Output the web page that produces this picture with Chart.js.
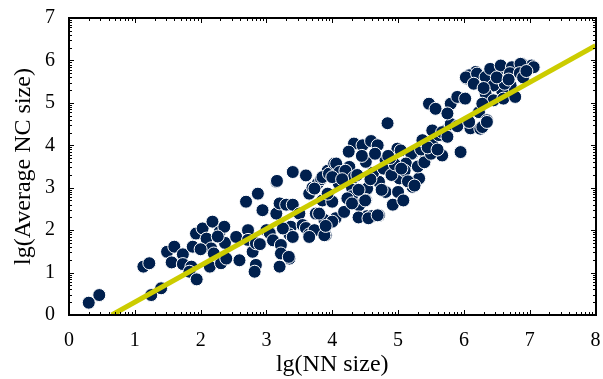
<!DOCTYPE html>
<html>
<head>
<meta charset="utf-8">
<script src="https://cdn.jsdelivr.net/npm/chart.js@4/dist/chart.umd.min.js"></script>
<style>
  html, body { margin: 0; padding: 0; background: #fff; }
  #wrap { width: 603px; height: 379px; position: relative; }
  #frame { position: absolute; left: 0; top: 0; width: 0; height: 0; pointer-events: none; }
  .edge { position: absolute; background: #000; }
</style>
</head>
<body>
<div id="wrap"><canvas id="nnChart" width="603" height="379"></canvas><div id="frame"></div></div>
<script>
// lg(NN size) for each network
const lgNN = [
  0.30, 0.46, 1.13, 1.22, 1.25, 1.40, 1.49, 1.60, 1.56, 1.73, 1.73, 1.86, 1.88, 1.83, 1.94,
  1.93, 2.03, 2.18, 2.09, 2.29, 2.36, 2.16, 2.14, 2.31, 2.39, 2.37, 2.26, 2.20, 2.00,
  2.54, 2.59, 2.72, 2.72, 2.69, 2.87, 2.94, 2.79, 2.84, 2.82, 2.84, 2.90, 3.00, 3.05,
  3.10, 3.15, 3.15, 3.20, 3.20, 3.22, 3.22, 3.35, 3.30, 3.40, 3.40, 3.37, 3.35, 3.25,
  3.16, 3.34, 3.50, 3.55, 3.40, 3.60, 3.65, 3.70, 3.78, 3.83, 3.93, 3.75, 3.85, 3.60,
  3.65, 3.73, 3.85, 3.95, 4.03, 4.00, 3.88, 3.73, 3.90, 3.65, 3.80, 4.05, 3.88, 3.93,
  4.00, 3.90, 4.06, 4.26, 4.11, 4.20, 4.10, 4.30, 4.33, 4.46, 4.59, 4.69, 4.51, 4.81,
  4.99, 4.84, 5.22, 5.42, 5.52, 5.67, 5.62, 5.72, 5.04, 5.20, 5.12, 5.02, 5.32, 4.71,
  4.53, 4.33, 4.81, 5.00, 5.22, 4.51, 4.30, 4.23, 4.18, 4.41, 4.53, 4.71, 4.60, 4.40,
  4.00, 4.30, 4.50, 4.55, 4.69, 4.15, 4.38, 4.62, 4.78, 4.90, 5.10, 4.95, 5.15, 5.30,
  5.40, 5.35, 4.45, 4.65, 4.88, 5.05, 5.25, 4.75, 4.92, 5.08, 4.25, 4.40, 4.58, 4.85,
  5.50, 5.37, 5.45, 5.60, 5.52, 5.67, 5.75, 5.95, 5.80, 5.90, 6.10, 5.47, 5.57, 5.80,
  5.90, 6.02, 5.75, 6.08, 6.23, 6.35, 6.25, 6.28, 6.35, 6.05, 6.18, 6.43, 6.55, 6.08,
  6.03, 6.20, 6.33, 6.40, 6.56, 6.73, 6.88, 7.03, 6.86, 7.06, 6.53, 6.70, 6.85, 6.90,
  6.71, 6.58, 6.45, 6.33, 6.45, 6.60, 6.78, 6.28, 6.15, 6.30, 6.62, 6.50, 6.68, 6.95
];
// lg(Average NC size), same order as lgNN
const lgAvgNC = [
  0.29, 0.47, 1.14, 1.22, 0.47, 0.63, 1.49, 1.61, 1.24, 1.43, 1.20, 1.14, 1.61, 1.02, 0.84,
  1.92, 2.04, 2.20, 1.80, 1.96, 2.08, 1.57, 1.14, 1.22, 1.33, 1.70, 1.85, 1.45, 1.55,
  1.84, 1.29, 2.00, 1.77, 2.67, 2.86, 2.47, 1.49, 1.18, 1.02, 1.69, 1.67, 2.00, 1.93,
  1.76, 2.39, 3.14, 2.63, 1.14, 1.65, 1.45, 1.33, 2.60, 3.37, 2.60, 2.08, 1.90, 2.04,
  3.16, 1.37, 2.39, 2.12, 1.84, 3.29, 2.86, 3.00, 3.10, 3.20, 3.40, 2.39, 2.70, 2.05,
  1.90, 2.98, 3.25, 3.33, 3.57, 2.67, 2.24, 2.00, 1.88, 1.84, 2.39, 2.28, 1.88, 2.86,
  2.20, 2.10, 3.57, 3.49, 3.37, 3.40, 3.10, 3.00, 4.04, 4.00, 4.10, 4.00, 3.61, 3.65,
  3.92, 4.52, 3.80, 3.69, 4.04, 3.76, 4.24, 4.35, 3.88, 3.80, 3.57, 3.22, 3.22, 3.14,
  2.98, 3.25, 2.90, 2.90, 3.02, 2.71, 2.80, 2.75, 2.43, 2.59, 2.33, 2.35, 2.33, 2.30,
  3.25, 2.63, 2.70, 2.28, 2.35, 3.20, 3.30, 3.35, 3.45, 3.30, 3.40, 3.55, 3.15, 3.50,
  3.60, 3.90, 3.75, 3.80, 3.70, 3.45, 3.05, 2.95, 2.60, 2.70, 3.85, 2.95, 3.20, 3.75,
  3.80, 4.12, 3.95, 3.90, 4.35, 4.31, 4.20, 3.84, 4.50, 4.45, 4.40, 4.98, 4.86, 4.98,
  5.14, 5.10, 4.75, 4.55, 4.78, 4.59, 4.39, 4.43, 4.55, 5.57, 5.73, 5.53, 5.80, 5.65,
  5.60, 5.69, 5.61, 5.80, 5.88, 5.84, 5.92, 5.88, 5.92, 5.84, 5.53, 5.70, 5.70, 5.60,
  5.41, 5.29, 5.41, 5.22, 5.06, 5.10, 5.14, 4.98, 5.45, 5.35, 5.45, 5.60, 5.55, 5.75
];
// fit line drawn across the box
const fitX = [0.65, 8];
const fitY = [0, 6.35];

const xTicks = [0, 1, 2, 3, 4, 5, 6, 7, 8];
const yTicks = [0, 1, 2, 3, 4, 5, 6, 7];

const serif = "'Liberation Serif', 'Times New Roman', serif";
const pts = lgNN.map((x, i) => ({ x, y: lgAvgNC[i] }));
const fitPts = fitX.map((x, i) => ({ x, y: fitY[i] }));

// majors plus matlab-style log minor ticks (lg 2..9) inside every unit
function withMinor(majors) {
  const out = [];
  majors.forEach((t, i) => {
    out.push({ v: t, len: 5 });
    if (i < majors.length - 1) for (let k = 2; k < 10; k++) out.push({ v: t + Math.log10(k), len: 3 });
  });
  return out;
}

const chart = new Chart(document.getElementById("nnChart"), {
  type: "scatter",
  data: {
    datasets: [
      {
        label: "fit",
        data: fitPts,
        showLine: true,
        borderColor: "rgb(204,204,0)",
        borderWidth: 5,
        pointRadius: 0,
        order: 0
      },
      {
        label: "networks",
        data: pts,
        backgroundColor: "rgb(0,32,78)",
        borderColor: "#fff",
        borderWidth: 1,
        pointRadius: 6.5,
        order: 1
      }
    ]
  },
  options: {
    responsive: false,
    animation: false,
    layout: { padding: { top: 18, right: 6, left: 0, bottom: 0 } },
    plugins: { legend: { display: false }, tooltip: { enabled: false } },
    scales: {
      x: {
        type: "linear", min: 0, max: 8,
        afterFit: s => { s.height = 64; s.paddingRight = 0; s.paddingLeft = 0; },
        grid: { display: false, drawTicks: false },
        border: { display: false },
        ticks: { stepSize: 1, color: "#000", padding: 14, font: { family: serif, size: 20 } },
        title: { display: true, text: "lg(NN size)", color: "#000", padding: 0, font: { family: serif, size: 24 } }
      },
      y: {
        type: "linear", min: 0, max: 7,
        afterFit: s => { s.width = 69; s.paddingTop = 0; s.paddingBottom = 0; },
        grid: { display: false, drawTicks: false },
        border: { display: false },
        ticks: { stepSize: 1, color: "#000", padding: 14, font: { family: serif, size: 20 } },
        title: { display: true, text: "lg(Average NC size)", color: "#000", padding: { top: 9, bottom: 0 }, font: { family: serif, size: 24 } }
      }
    }
  }
});

// box frame and inward ticks, laid over the canvas at the chart's own scale positions
function addEdge(box, left, top, w, h) {
  const d = document.createElement("div");
  d.className = "edge";
  d.style.left = left + "px";
  d.style.top = top + "px";
  d.style.width = w + "px";
  d.style.height = h + "px";
  box.appendChild(d);
}

function drawFrame() {
  const box = document.getElementById("frame");
  box.innerHTML = "";
  const a = chart.chartArea;
  const L = Math.round(a.left), R = Math.round(a.right), T = Math.round(a.top), B = Math.round(a.bottom);
  // four sides, 2px
  addEdge(box, L - 1, T - 1, R - L + 2, 2);
  addEdge(box, L - 1, B - 1, R - L + 2, 2);
  addEdge(box, L - 1, T - 1, 2, B - T + 2);
  addEdge(box, R - 1, T - 1, 2, B - T + 2);
  // x ticks on bottom and top
  withMinor(xTicks).forEach(t => {
    const p = Math.round(chart.scales.x.getPixelForValue(t.v));
    addEdge(box, p, B - t.len, 1, t.len);
    addEdge(box, p, T, 1, t.len);
  });
  // y ticks on left and right
  withMinor(yTicks).forEach(t => {
    const p = Math.round(chart.scales.y.getPixelForValue(t.v));
    addEdge(box, L, p, t.len, 1);
    addEdge(box, R - t.len, p, t.len, 1);
  });
}
drawFrame();
</script>
</body>
</html>
